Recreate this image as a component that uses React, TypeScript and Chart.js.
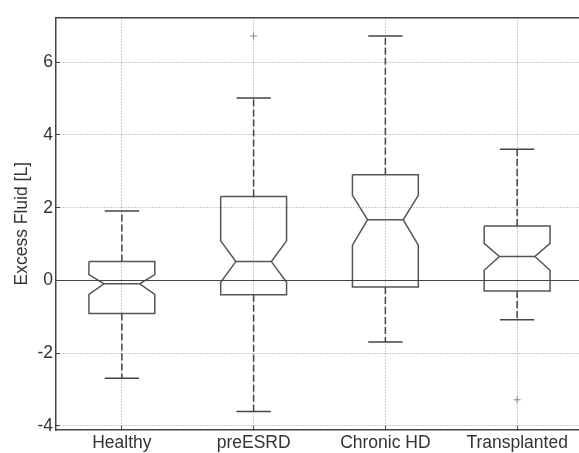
import React, { useEffect, useRef } from "react";
import { Chart, registerables } from "chart.js";
Chart.register(...registerables);

const categories = ["Healthy", "preESRD", "Chronic HD", "Transplanted"];
const whiskerLow = [-2.69, -3.6, -1.69, -1.08];
const q1 = [-0.91, -0.39, -0.18, -0.29];
const notchLow = [-0.38, -0.05, 0.97, 0.28];
const median = [-0.09, 0.52, 1.67, 0.66];
const notchHigh = [0.16, 1.09, 2.34, 1.02];
const q3 = [0.52, 2.31, 2.91, 1.5];
const whiskerHigh = [1.91, 5.02, 6.72, 3.61];
const outliers: number[][] = [[], [6.72], [], [-3.28]];
const yTicks = [-4, -2, 0, 2, 4, 6];

const BOX_HALF = 0.25;
const NOTCH_HALF = 0.135;
const CAP_HALF = 0.13;
const FONT = { family: "'Liberation Sans', Arial, sans-serif", size: 17.5 };

type P = { x: number; y: number | null };

function buildBoxes(): P[] {
  const pts: P[] = [];
  categories.forEach((_, i) => {
    const c = i + 1;
    pts.push(
      { x: c - BOX_HALF, y: q3[i] },
      { x: c + BOX_HALF, y: q3[i] },
      { x: c + BOX_HALF, y: notchHigh[i] },
      { x: c + NOTCH_HALF, y: median[i] },
      { x: c + BOX_HALF, y: notchLow[i] },
      { x: c + BOX_HALF, y: q1[i] },
      { x: c - BOX_HALF, y: q1[i] },
      { x: c - BOX_HALF, y: notchLow[i] },
      { x: c - NOTCH_HALF, y: median[i] },
      { x: c - BOX_HALF, y: notchHigh[i] },
      { x: c - BOX_HALF, y: q3[i] },
      { x: c, y: null }
    );
  });
  return pts;
}

function buildMedians(): P[] {
  const pts: P[] = [];
  categories.forEach((_, i) => {
    const c = i + 1;
    pts.push({ x: c - NOTCH_HALF, y: median[i] }, { x: c + NOTCH_HALF, y: median[i] }, { x: c, y: null });
  });
  return pts;
}

function buildWhiskers(): P[] {
  const pts: P[] = [];
  categories.forEach((_, i) => {
    const c = i + 1;
    pts.push({ x: c, y: q3[i] }, { x: c, y: whiskerHigh[i] }, { x: c, y: null });
    pts.push({ x: c, y: q1[i] }, { x: c, y: whiskerLow[i] }, { x: c, y: null });
  });
  return pts;
}

function buildCaps(): P[] {
  const pts: P[] = [];
  categories.forEach((_, i) => {
    const c = i + 1;
    pts.push({ x: c - CAP_HALF, y: whiskerHigh[i] }, { x: c + CAP_HALF, y: whiskerHigh[i] }, { x: c, y: null });
    pts.push({ x: c - CAP_HALF, y: whiskerLow[i] }, { x: c + CAP_HALF, y: whiskerLow[i] }, { x: c, y: null });
  });
  return pts;
}

function buildOutliers(): P[] {
  const pts: P[] = [];
  outliers.forEach((arr, i) => arr.forEach((v) => pts.push({ x: i + 1, y: v })));
  return pts;
}

export default function App() {
  const ref = useRef<HTMLCanvasElement | null>(null);
  useEffect(() => {
    if (!ref.current) return;
    const lineBase = { type: "line" as const, pointRadius: 0, spanGaps: false, fill: false, tension: 0 };
    const chart = new Chart(ref.current, {
      type: "line",
      data: {
        datasets: [
          { ...lineBase, label: "zero", data: [{ x: 0.5, y: 0 }, { x: 4.5, y: 0 }], borderColor: "#444", borderWidth: 1.2 },
          { ...lineBase, label: "whiskers", data: buildWhiskers(), borderColor: "#444", borderWidth: 1.5, borderDash: [7, 3] },
          { ...lineBase, label: "caps", data: buildCaps(), borderColor: "#444", borderWidth: 1.5 },
          { ...lineBase, label: "boxes", data: buildBoxes(), borderColor: "#555", borderWidth: 1.5 },
          { ...lineBase, label: "medians", data: buildMedians(), borderColor: "#555", borderWidth: 1.5 },
          {
            type: "scatter" as const,
            label: "outliers",
            data: buildOutliers(),
            pointStyle: "cross",
            pointRadius: 3.5,
            borderColor: "#888",
            borderWidth: 1,
            showLine: false,
          },
        ] as any,
      },
      options: {
        animation: false,
        responsive: false,
        devicePixelRatio: 1,
        layout: { padding: { top: 15, right: 7, left: 0, bottom: 0 } },
        plugins: { legend: { display: false }, tooltip: { enabled: false } },
        scales: {
          x: {
            type: "linear",
            position: "bottom",
            min: 0.5,
            max: 4.5,
            afterBuildTicks: (s: any) => {
              s.ticks = categories.map((_, i) => ({ value: i + 1 }));
            },
            afterFit: (s: any) => {
              s.height = 23;
            },
            ticks: {
              callback: (v: any) => categories[Math.round(Number(v)) - 1] ?? "",
              font: FONT,
              color: "#333",
              padding: 7,
              maxRotation: 0,
              autoSkip: false,
            },
            grid: { color: "#999", lineWidth: 1, drawTicks: true, tickLength: -4, tickColor: "#444", tickWidth: 1 },
            border: { display: true, color: "#444", width: 1.5, dash: [1, 2] },
          },
          xTop: {
            type: "linear",
            position: "top",
            min: 0.5,
            max: 4.5,
            ticks: { display: false },
            grid: { display: false },
            border: { display: true, color: "#444", width: 1.5 },
            afterFit: (s: any) => {
              s.height = 0;
            },
          },
          y: {
            type: "linear",
            min: -4.11,
            max: 7.23,
            afterBuildTicks: (s: any) => {
              s.ticks = yTicks.map((v) => ({ value: v }));
            },
            afterFit: (s: any) => {
              s.width = 56;
            },
            ticks: { callback: (v: any) => String(v), font: FONT, color: "#333", padding: 7 },
            grid: { color: "#999", lineWidth: 1, drawTicks: true, tickLength: -4, tickColor: "#444", tickWidth: 1 },
            border: { display: true, color: "#444", width: 1.5, dash: [1, 2] },
            title: { display: true, text: "Excess Fluid [L]", font: FONT, color: "#333", padding: { top: 12, bottom: 0 } },
          },
        },
      } as any,
    });
    return () => chart.destroy();
  }, []);
  return (
    <div style={{ position: "fixed", left: 0, top: 0, width: 590, height: 453, background: "#fff" }}>
      <canvas ref={ref} width={590} height={453} style={{ display: "block" }} />
    </div>
  );
}
